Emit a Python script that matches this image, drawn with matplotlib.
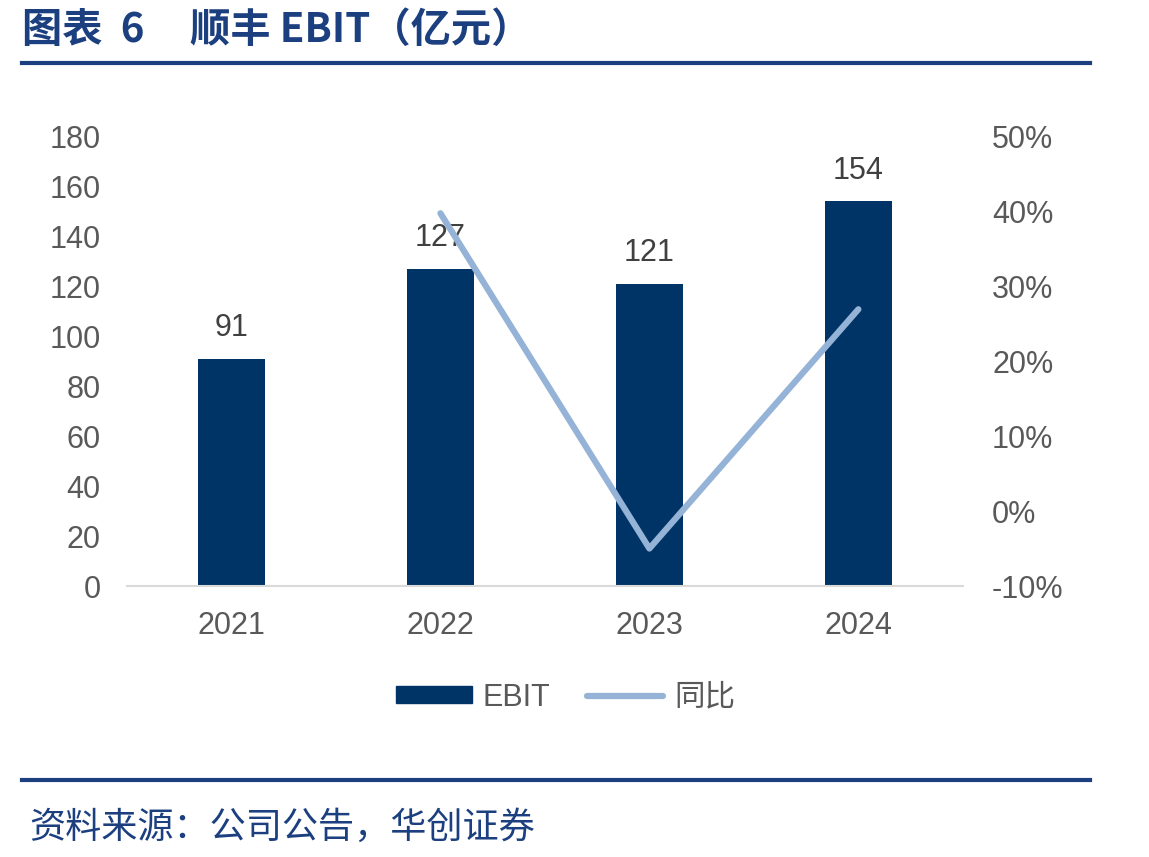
#!/usr/bin/env python3
"""SF Holding EBIT bar chart with YoY line."""

import matplotlib

matplotlib.use("Agg")
import matplotlib.pyplot as plt
from matplotlib.lines import Line2D
from matplotlib.patches import Patch
from matplotlib.ticker import FuncFormatter

plt.rcParams["font.family"] = ["Liberation Sans", "Noto Sans CJK SC", "DejaVu Sans"]

years = ["2021", "2022", "2023", "2024"]
ebit = [91, 127, 121, 154]
yoy_years = ["2022", "2023", "2024"]
yoy_pct = [39.7, -5.0, 26.9]

left_ticks = [0, 20, 40, 60, 80, 100, 120, 140, 160, 180]
right_ticks = [-10, 0, 10, 20, 30, 40, 50]

BAR = "#003366"
LINE = "#95B3D7"
TEXT = "#595959"
TITLE = "#1B3F7F"

fig = plt.figure(figsize=(11.49, 8.57), dpi=100)
ax = fig.add_axes([0.1105, 0.3162, 0.7275, 0.5251])
x = list(range(len(years)))
ax.bar(x, ebit, width=0.32, color=BAR, zorder=2)
for xi, v in zip(x, ebit):
    ax.annotate(str(v), (xi, v), xytext=(0, 11), textcoords="offset points",
                ha="center", va="bottom", fontsize=22, color="#404040")
ax.set_xlim(-0.5, 3.5)
ax.set_ylim(0, 180)
ax.set_yticks(left_ticks)
ax.set_xticks(x)
ax.set_xticklabels(years)
for side in ["top", "right", "left"]:
    ax.spines[side].set_visible(False)
ax.spines["bottom"].set_color("#D9D9D9")
ax.spines["bottom"].set_linewidth(1.5)
ax.tick_params(axis="both", length=0, labelsize=22, labelcolor=TEXT)
ax.tick_params(axis="x", pad=18)
ax.tick_params(axis="y", pad=19)

ax2 = ax.twinx()
ax2.plot([years.index(y) for y in yoy_years], yoy_pct, color=LINE, lw=4.5,
         solid_capstyle="round", zorder=3)
ax2.set_ylim(-10, 50)
ax2.set_yticks(right_ticks)
ax2.yaxis.set_major_formatter(FuncFormatter(lambda v, _: f"{v:.0f}%"))
for side in ["top", "right", "left", "bottom"]:
    ax2.spines[side].set_visible(False)
ax2.tick_params(axis="y", length=0, labelsize=22, labelcolor=TEXT, pad=21)

handles = [Patch(facecolor=BAR, edgecolor=BAR),
           Line2D([0], [0], color=LINE, lw=4.5, solid_capstyle="round")]
fig.legend(handles, ["EBIT", "同比"], loc="center", bbox_to_anchor=(0.492, 0.186),
           ncol=2, frameon=False, fontsize=22, handlelength=2.5, handleheight=0.5,
           columnspacing=1.2, handletextpad=0.35, labelcolor=TEXT)

fig.text(0.019, 0.965, "图表  6     顺丰 EBIT（亿元）", fontsize=29, fontweight="bold",
         color=TITLE, va="center", ha="left",
         family=["Noto Sans CJK SC", "DejaVu Sans"])
fig.add_artist(Line2D([0.019, 0.949], [0.927, 0.927], color=TITLE, lw=3))
fig.add_artist(Line2D([0.019, 0.949], [0.090, 0.090], color=TITLE, lw=3))
fig.text(0.025, 0.034, "资料来源：公司公告，华创证券", fontsize=26, color=TITLE,
         va="center", ha="left", style="italic",
         family=["Noto Sans CJK SC", "DejaVu Sans"])

fig.savefig("out.png", dpi=100)
